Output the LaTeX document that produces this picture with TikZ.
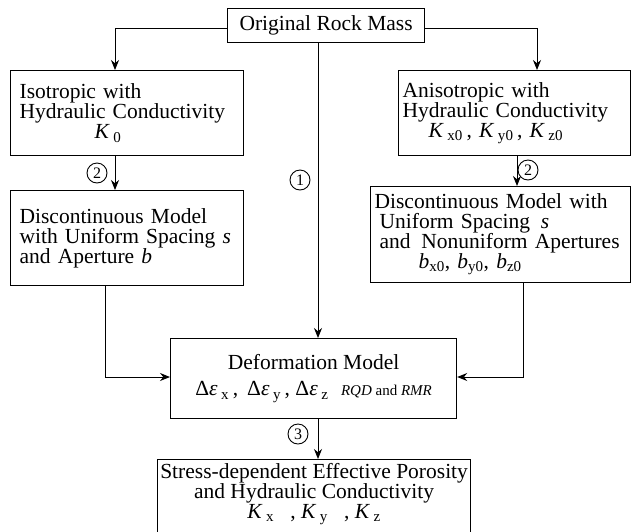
\documentclass[tikz,border=0pt]{standalone}
\usepackage{fontspec}
\setmainfont{Liberation Serif}
\usetikzlibrary{arrows.meta}
\newcommand{\sbx}[1]{\textsubscript{#1}}
\tikzset{
  box/.style={draw, line width=1.2pt, anchor=north west, inner xsep=6pt, inner ysep=0pt,
    font=\fontsize{21.5}{20}\selectfont},
  flow/.style={line width=1pt, -{Stealth[length=10pt,width=8pt]}},
  num/.style={draw, circle, line width=0.9pt, inner sep=0pt, minimum size=20pt,
    font=\fontsize{16}{16}\selectfont}
}
\begin{document}
\begin{tikzpicture}[x=1pt,y=-1pt]
\useasboundingbox (0,0) rectangle (634,531);
% boxes
\node[box, minimum width=197pt, minimum height=34pt, align=center] (top) at (227,8) {Original Rock Mass};
\node[box, minimum width=233pt, minimum height=85pt, text width=215pt, align=left, inner xsep=9pt] (iso) at (10,70)
  {Isotropic with\\Hydraulic Conductivity\\\hspace*{75pt}\textit{K}\,\sbx{0}};
\node[box, minimum width=233pt, minimum height=95pt, text width=215pt, align=left, inner xsep=9pt] (discl) at (10,190)
  {Discontinuous Model\\with Uniform Spacing \textit{s}\\and Aperture \textit{b}};
\node[box, minimum width=232pt, minimum height=85pt, text width=224pt, align=left, inner xsep=4pt] (aniso) at (398,70)
  {Anisotropic with\\Hydraulic Conductivity\\\hspace*{26pt}\textit{K}\,\sbx{x0}\,, \textit{K}\,\sbx{y0}\,, \textit{K}\,\sbx{z0}};
\node[box, minimum width=260pt, minimum height=96pt, text width=252pt, align=left, inner xsep=4pt] (discr) at (370,186)
  {Discontinuous Model with\\\hspace*{5pt}Uniform Spacing\, \textit{s}\\\hspace*{5pt}and\, Nonuniform Apertures\\\hspace*{44pt}\textit{b}\sbx{x0}, \textit{b}\sbx{y0}, \textit{b}\sbx{z0}};
\node[box, minimum width=286pt, minimum height=80pt, align=center, inner xsep=2pt] (deform) at (170,338)
  {Deformation Model\\[6pt]Δ\textit{ε}\,\sbx{x}\,,\, Δ\textit{ε}\,\sbx{y}\,, Δ\textit{ε}\,\sbx{z}\,\, {\fontsize{15}{15}\selectfont\textit{RQD} and \textit{RMR}}};
\node[box, minimum width=313pt, minimum height=90pt, align=center, inner xsep=2pt] (final) at (157,459)
  {\\[-6pt]Stress-dependent Effective Porosity\\and Hydraulic Conductivity\\\textit{K}\,\sbx{x}\,\,\, , \textit{K}\,\sbx{y}\,\,\, , \textit{K}\,\sbx{z}\\[6pt]};
% connectors
\coordinate (ltop) at (115,70);
\coordinate (rtop) at (537,70);
\draw[flow] (top.west |- 0,28) -| (iso.north -| ltop);
\draw[flow] (top.east |- 0,28) -| (aniso.north -| rtop);
\draw[flow] (top.south -| 318,0) -- (deform.north -| 318,0);
\draw[flow] (iso.south -| ltop) -- (discl.north -| ltop);
\draw[flow] (aniso.south -| 517,0) -- (discr.north -| 517,0);
\draw[flow] (discl.south -| 105,0) |- (deform.west |- 0,377);
\draw[flow] (discr.south -| 523,0) |- (deform.east |- 0,377);
\draw[flow] (deform.south -| 318,0) -- (final.north -| 318,0);
% circled numbers
\node[num] (n1) at (300,180) {1};
\node[num] (n2l) at (97,173) {2};
\node[num] (n2r) at (528,170) {2};
\node[num] (n3) at (298,434) {3};
\end{tikzpicture}
\end{document}
